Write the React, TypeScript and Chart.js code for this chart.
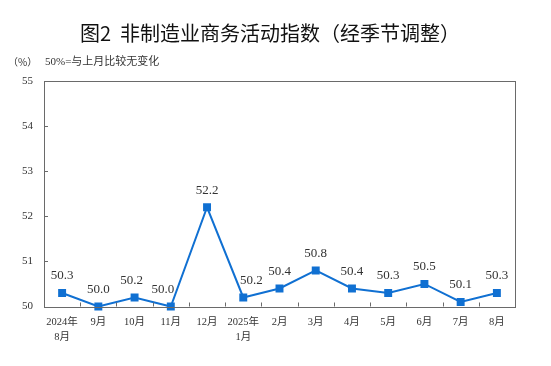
import React, { useEffect, useRef } from "react";
import { Chart, registerables } from "chart.js";

Chart.register(...registerables);

const categories: (string | string[])[] = [
  ["2024年", "8月"], "9月", "10月", "11月", "12月", ["2025年", "1月"],
  "2月", "3月", "4月", "5月", "6月", "7月", "8月",
];
const indexValues: number[] = [50.3, 50.0, 50.2, 50.0, 52.2, 50.2, 50.4, 50.8, 50.4, 50.3, 50.5, 50.1, 50.3];
const yTicks: number[] = [50, 51, 52, 53, 54, 55];

// small horizontal nudges of value labels (px), to avoid the line
const labelNudgeX: number[] = [0, 0, -3, -8, 0, 8, 0, 0, 0, 0, 0, 0, 0];

const titleText = "图2  非制造业商务活动指数（经季节调整）";
const unitText = "（%）";
const noteText = "50%=与上月比较无变化";

const SERIF = "'Liberation Serif', 'Noto Sans CJK SC', serif";
const SANS = "'Noto Sans CJK SC', 'Noto Sans', sans-serif";
const LINE_COLOR = "#1070d2";
const FRAME_COLOR = "#6a6a6a";

const decorPlugin = {
  id: "decor",
  beforeDraw(chart: any) {
    const ctx = chart.ctx;
    ctx.save();
    ctx.fillStyle = "#ffffff";
    ctx.fillRect(0, 0, chart.width, chart.height);
    ctx.fillStyle = "#111111";
    ctx.textBaseline = "middle";
    ctx.textAlign = "left";
    ctx.font = `20px ${SANS}`;
    ctx.fillText(titleText, 80, 33);
    ctx.fillStyle = "#333333";
    ctx.font = `10px ${SANS}`;
    ctx.fillText(unitText, 8, 62);
    ctx.font = `11px ${SERIF}`;
    ctx.fillText(noteText, 45, 62);
    ctx.restore();
  },
  afterDraw(chart: any) {
    const ctx = chart.ctx;
    const { left, right, top, bottom } = chart.chartArea;
    ctx.save();
    ctx.strokeStyle = FRAME_COLOR;
    ctx.lineWidth = 1;
    ctx.strokeRect(Math.round(left) + 0.5, Math.round(top) + 0.5, Math.round(right - left), Math.round(bottom - top));
    ctx.beginPath();
    const ys = chart.scales.y;
    yTicks.forEach((v) => {
      const py = Math.round(ys.getPixelForValue(v)) + 0.5;
      ctx.moveTo(left, py);
      ctx.lineTo(left + 4, py);
    });
    const xs = chart.scales.x;
    for (let i = 1; i < categories.length; i++) {
      const px = Math.round((xs.getPixelForValue(i - 1) + xs.getPixelForValue(i)) / 2) + 0.5;
      ctx.moveTo(px, bottom);
      ctx.lineTo(px, bottom - 4);
    }
    ctx.stroke();
    ctx.restore();
  },
  afterDatasetsDraw(chart: any) {
    const ctx = chart.ctx;
    const meta = chart.getDatasetMeta(0);
    ctx.save();
    ctx.fillStyle = "#333333";
    ctx.font = `13px ${SERIF}`;
    ctx.textAlign = "center";
    ctx.textBaseline = "middle";
    meta.data.forEach((pt: any, i: number) => {
      ctx.fillText(indexValues[i].toFixed(1), pt.x + (labelNudgeX[i] || 0), pt.y - 17);
    });
    ctx.restore();
  },
};

export default function App() {
  const ref = useRef<HTMLCanvasElement | null>(null);
  useEffect(() => {
    if (!ref.current) return;
    const chart = new Chart(ref.current, {
      type: "line",
      data: {
        labels: categories,
        datasets: [
          {
            data: indexValues,
            borderColor: LINE_COLOR,
            backgroundColor: LINE_COLOR,
            borderWidth: 2,
            pointStyle: "rect",
            pointRadius: 4.2,
            pointHoverRadius: 4.2,
            tension: 0,
            clip: false,
          } as any,
        ],
      },
      options: {
        animation: false,
        responsive: false,
        maintainAspectRatio: false,
        events: [],
        layout: { padding: { top: 81, right: 36, bottom: 0, left: 0 } },
        plugins: {
          legend: { display: false },
          title: { display: false },
          tooltip: { enabled: false },
        },
        scales: {
          x: {
            offset: true,
            grid: { display: false, drawTicks: false },
            border: { display: false },
            ticks: {
              color: "#333333",
              font: { family: SERIF, size: 10.5, lineHeight: 1.35 },
              padding: 9,
              maxRotation: 0,
              autoSkip: false,
            },
            afterFit(scale: any) {
              scale.height = 59.5;
            },
          },
          y: {
            min: 50,
            max: 55,
            grid: { display: false, drawTicks: false },
            border: { display: false },
            ticks: {
              stepSize: 1,
              color: "#333333",
              font: { family: SERIF, size: 11 },
              padding: 11,
            },
            afterFit(scale: any) {
              scale.width = 44;
            },
          },
        },
      },
      plugins: [decorPlugin],
    });
    return () => chart.destroy();
  }, []);
  return (
    <div style={{ position: "fixed", left: 0, top: 0, width: 551, height: 366, background: "#fff" }}>
      <canvas ref={ref} width={551} height={366} style={{ width: 551, height: 366, display: "block" }} />
    </div>
  );
}
